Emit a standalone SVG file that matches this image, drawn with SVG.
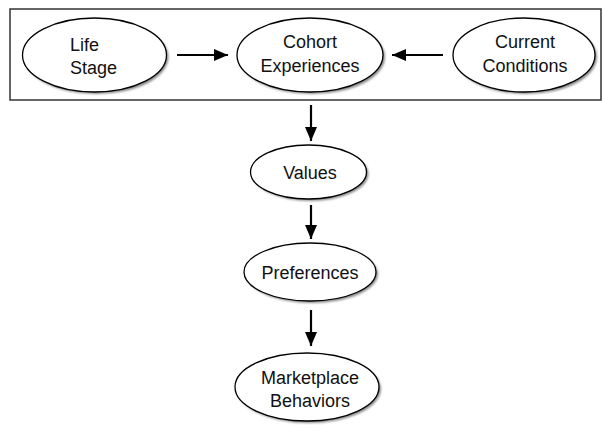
<svg xmlns="http://www.w3.org/2000/svg" width="602" height="425" viewBox="0 0 602 425">
  <style>
    .node ellipse.body { fill: #ffffff; stroke: #000000; stroke-width: 1.3; }
    .node ellipse.shade { fill: #8a8a8a; filter: url(#soft); }
    .node text { font-family: "Liberation Sans", Arial, sans-serif; font-size: 18px; fill: #111111; text-anchor: middle; }
    .frame { fill: none; stroke: #333333; stroke-width: 1.5; }
    .edge { stroke: #000000; stroke-width: 2.2; fill: none; marker-end: url(#arrow); }
  </style>
  <defs>
    <filter id="soft" x="-10%" y="-10%" width="130%" height="130%">
      <feGaussianBlur stdDeviation="1"/>
    </filter>
    <marker id="arrow" viewBox="0 0 14 12" refX="14" refY="6" markerWidth="14" markerHeight="12" markerUnits="userSpaceOnUse" orient="auto">
      <path d="M0,0 L14,6 L0,12 Z" fill="#000000"/>
    </marker>
  </defs>

  <rect class="frame" x="10" y="9" width="591" height="91"/>

  <g id="life-stage" class="node">
    <ellipse class="shade" cx="96.5" cy="57" rx="72" ry="37"/>
    <ellipse class="body" cx="94.5" cy="55" rx="72" ry="37"/>
    <text x="70" y="51" style="text-anchor:start">Life</text>
    <text x="70" y="74" style="text-anchor:start">Stage</text>
  </g>

  <g id="cohort-experiences" class="node">
    <ellipse class="shade" cx="312" cy="57" rx="73" ry="37"/>
    <ellipse class="body" cx="310" cy="55" rx="73" ry="37"/>
    <text x="310" y="48">Cohort</text>
    <text x="310" y="72">Experiences</text>
  </g>

  <g id="current-conditions" class="node">
    <ellipse class="shade" cx="526" cy="57" rx="71" ry="37"/>
    <ellipse class="body" cx="524" cy="55" rx="71" ry="37"/>
    <text x="525" y="48">Current</text>
    <text x="525" y="72">Conditions</text>
  </g>

  <g id="values" class="node">
    <ellipse class="shade" cx="310.5" cy="174" rx="58" ry="27"/>
    <ellipse class="body" cx="308.5" cy="172" rx="58" ry="27"/>
    <text x="310" y="179">Values</text>
  </g>

  <g id="preferences" class="node">
    <ellipse class="shade" cx="312" cy="274" rx="66" ry="29"/>
    <ellipse class="body" cx="310" cy="272" rx="66" ry="29"/>
    <text x="310" y="279">Preferences</text>
  </g>

  <g id="marketplace-behaviors" class="node">
    <ellipse class="shade" cx="309" cy="389" rx="72" ry="34"/>
    <ellipse class="body" cx="307" cy="387" rx="72" ry="34"/>
    <text x="310" y="384">Marketplace</text>
    <text x="310" y="407">Behaviors</text>
  </g>

  <g id="connectors">
    <line class="edge" x1="177" y1="55" x2="228" y2="55"/>
    <line class="edge" x1="443" y1="55" x2="392" y2="55"/>
    <line class="edge" x1="311" y1="105" x2="311" y2="141"/>
    <line class="edge" x1="311" y1="205" x2="311" y2="239"/>
    <line class="edge" x1="311" y1="310" x2="311" y2="346"/>
  </g>
</svg>
